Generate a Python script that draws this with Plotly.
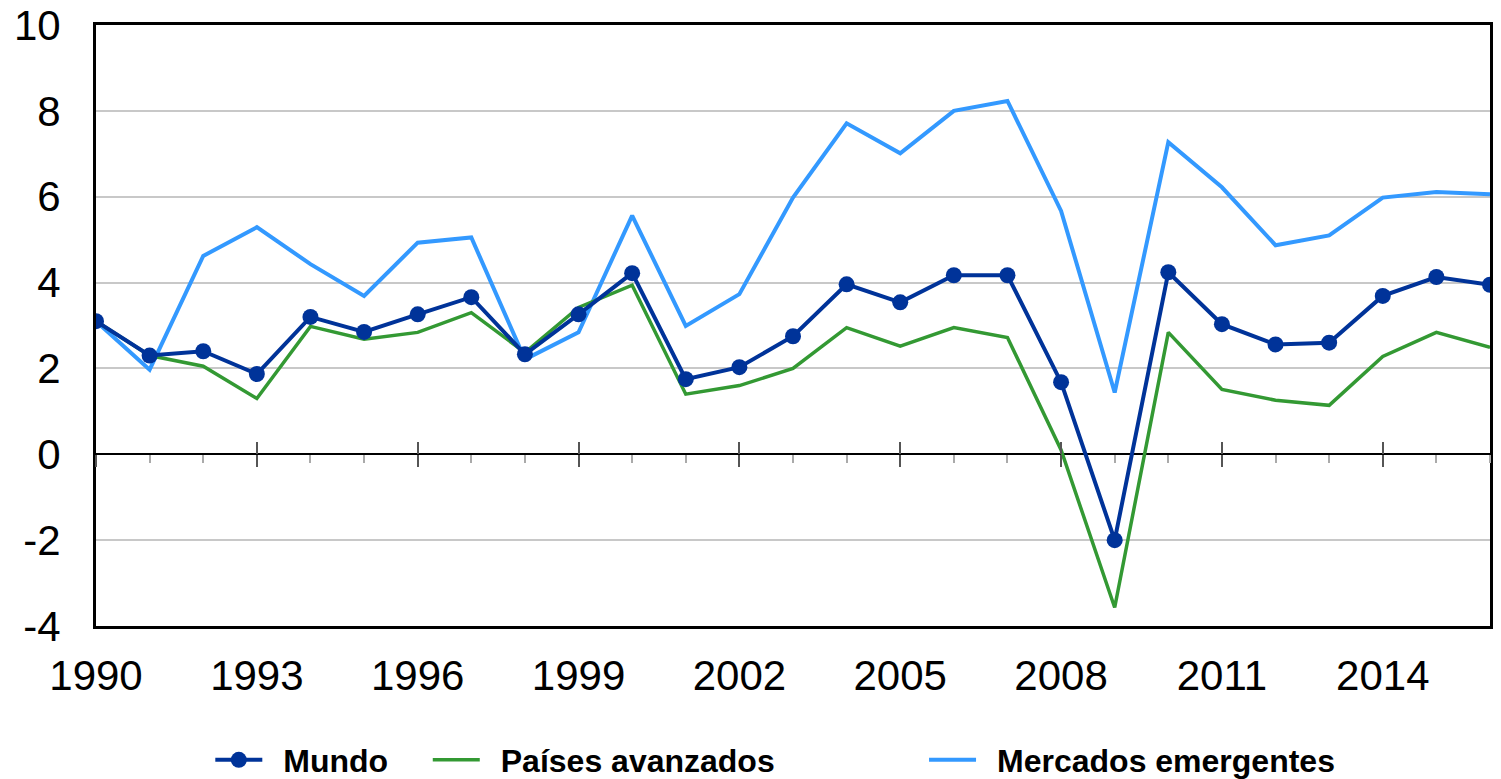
import plotly.graph_objects as go

years = list(range(1990, 2017))

mundo = [3.1, 2.3, 2.4, 1.87, 3.2, 2.85, 3.26, 3.66, 2.33, 3.26, 4.22, 1.75, 2.03,
         2.75, 3.96, 3.54, 4.17, 4.17, 1.68, -2.0, 4.24, 3.03, 2.56, 2.6, 3.69, 4.13, 3.95]
avanzados = [3.1, 2.3, 2.05, 1.3, 2.98, 2.68, 2.84, 3.3, 2.37, 3.42, 3.94, 1.4, 1.6,
             2.0, 2.95, 2.52, 2.95, 2.72, 0.1, -3.57, 2.84, 1.51, 1.26, 1.14, 2.28, 2.84, 2.49]
emergentes = [3.1, 1.97, 4.62, 5.29, 4.43, 3.69, 4.93, 5.05, 2.21, 2.84, 5.56, 2.99, 3.73,
              5.98, 7.71, 7.01, 8.0, 8.23, 5.67, 1.44, 7.27, 6.22, 4.87, 5.1, 5.98, 6.11, 6.06]

tick_years = [1990, 1993, 1996, 1999, 2002, 2005, 2008, 2011, 2014]
tick_labels = [str(y) for y in tick_years]
y_ticks = [-4, -2, 0, 2, 4, 6, 8, 10]
y_labels = ["-4", "-2", "0", "2", "4", "6", "8", "10"]

font_family = "Arial, Liberation Sans, sans-serif"
dark_blue = "#003399"
green = "#339933"
light_blue = "#3399ff"

# en space keeps the gap between legend symbol and text like the original
gap = "\u2002"

fig = go.Figure()

fig.add_trace(go.Scatter(x=years, y=emergentes, name=gap + "Mercados emergentes",
                         mode="lines", line=dict(color=light_blue, width=4),
                         legend="legend3"))
fig.add_trace(go.Scatter(x=years, y=avanzados, name=gap + "Países avanzados",
                         mode="lines", line=dict(color=green, width=3.5),
                         legend="legend2"))
fig.add_trace(go.Scatter(x=years, y=mundo, name=gap + "Mundo",
                         mode="lines+markers", line=dict(color=dark_blue, width=4),
                         marker=dict(size=16, color=dark_blue),
                         legend="legend"))

# invisible traces so the tick axes on the zero line get drawn
for ax in ["x2", "x3"]:
    fig.add_trace(go.Scatter(x=years, y=mundo, xaxis=ax, mode="lines",
                             opacity=0, showlegend=False, hoverinfo="skip"))

legend_style = dict(orientation="h", yanchor="middle", xanchor="left", y=-0.223,
                    font=dict(family=font_family, size=32, color="black", weight="bold"),
                    itemwidth=47, bgcolor="rgba(0,0,0,0)")

# the page body adds an 8px margin, so the figure is shifted by 8px
fig.update_layout(
    width=1493, height=771,
    margin=dict(l=88, r=11, t=17, b=153, autoexpand=False),
    plot_bgcolor="white", paper_bgcolor="white",
    legend=dict(x=0.082, **legend_style),
    legend2=dict(x=0.238, **legend_style),
    legend3=dict(x=0.594, **legend_style),
    xaxis=dict(range=[1990, 2016], tickvals=tick_years, ticktext=tick_labels,
               showgrid=False, zeroline=False, ticks="", ticklabelstandoff=11,
               showline=True, mirror=True, linecolor="black", linewidth=3,
               automargin=False, ticklabeloverflow="allow",
               tickfont=dict(family=font_family, size=42, color="black")),
    xaxis2=dict(matches="x", overlaying="x", anchor="free", position=4 / 14,
                side="bottom", showticklabels=False, showgrid=False, zeroline=False,
                showline=False, tickvals=tick_years, ticks="outside", ticklen=12,
                tickwidth=1.5, tickcolor="#555",
                minor=dict(ticks="outside", dtick=1, tick0=1990, ticklen=8,
                           tickwidth=2, tickcolor="#aaa")),
    xaxis3=dict(matches="x", overlaying="x", anchor="free", position=4 / 14,
                side="bottom", showticklabels=False, showgrid=False, zeroline=False,
                showline=False, tickvals=tick_years, ticks="inside", ticklen=12,
                tickwidth=1.5, tickcolor="#555"),
    yaxis=dict(range=[-4, 10], tickvals=y_ticks, ticktext=y_labels, showgrid=True,
               gridcolor="#c8c8c8", gridwidth=2,
               zeroline=True, zerolinecolor="black", zerolinewidth=1.5,
               ticks="", ticklabelstandoff=24, automargin=False,
               ticklabeloverflow="allow",
               showline=True, mirror=True, linecolor="black", linewidth=3,
               tickfont=dict(family=font_family, size=42, color="black")),
)

fig.write_html("out.html")
